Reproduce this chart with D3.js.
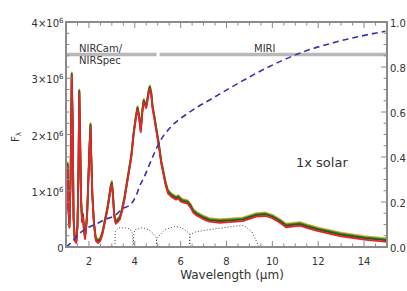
<!DOCTYPE html>
<html lang="en">
<head>
<meta charset="UTF-8">
<title>Spectrum 1x solar</title>
<script src="https://d3js.org/d3.v7.min.js"></script>
<style>
  body { margin: 0; background: #fff; }
  text { font-family: "DejaVu Sans", sans-serif; fill: #333; }
</style>
</head>
<body>
<svg id="chart"></svg>
<script>
// spectrum: wavelength (micron) and flux (units of 1e6)
var specWl = [1.00,1.03,1.07,1.10,1.15,1.20,1.25,1.29,1.33,1.38,1.45,1.50,1.54,1.58,1.62,1.66,1.70,1.74,1.78,1.83,1.88,1.92,1.96,2.02,2.07,2.10,2.15,2.22,2.30,2.40,2.50,2.60,2.70,2.80,2.88,2.95,3.00,3.05,3.10,3.17,3.25,3.35,3.45,3.55,3.65,3.75,3.85,3.95,4.05,4.12,4.19,4.26,4.33,4.39,4.45,4.50,4.56,4.62,4.66,4.72,4.78,4.85,4.94,5.05,5.15,5.25,5.35,5.45,5.60,5.80,5.90,6.00,6.10,6.30,6.45,6.55,6.70,6.96,7.25,7.70,8.10,8.70,9.30,9.70,10.00,10.30,10.60,11.20,11.50,12.00,13.00,14.00,15.00];
var specFlux = [0.40,0.90,1.45,0.80,0.35,1.20,3.05,2.20,0.50,0.12,0.08,0.35,1.20,2.75,1.80,0.80,0.45,0.55,0.30,0.15,0.35,0.55,1.00,1.70,2.15,1.60,0.90,0.40,0.12,0.08,0.12,0.25,0.45,0.65,0.85,1.05,1.12,0.90,0.55,0.42,0.45,0.50,0.65,0.85,1.10,1.35,1.60,2.00,2.30,2.45,2.30,2.05,2.40,2.58,2.52,2.48,2.62,2.78,2.82,2.70,2.45,2.30,2.07,1.80,1.50,1.30,1.10,0.96,0.90,0.85,0.87,0.82,0.80,0.78,0.70,0.62,0.57,0.51,0.46,0.44,0.45,0.47,0.55,0.56,0.52,0.45,0.36,0.39,0.35,0.29,0.20,0.14,0.10];

// cumulative fraction (right axis)
var cumWl = [1.00,1.26,1.52,1.95,2.35,2.69,3.13,3.43,3.86,4.08,4.21,4.43,4.56,4.86,5.17,5.51,6.38,7.34,8.55,9.77,11.29,12.89,14.93];
var cumFrac = [0.0,0.023,0.054,0.086,0.104,0.122,0.140,0.167,0.194,0.234,0.270,0.315,0.347,0.419,0.482,0.527,0.599,0.658,0.730,0.797,0.865,0.914,0.959];

// filter curves (right axis)
var filt1Wl = [3.13,3.15,3.30,3.60,3.80,3.90,3.93];
var filt1Tr = [0.0,0.07,0.085,0.085,0.08,0.06,0.0];
var filt2Wl = [3.93,3.95,4.00,4.35,4.60,4.80,4.95,4.96];
var filt2Tr = [0.0,0.05,0.077,0.086,0.077,0.06,0.04,0.0];
var filt3Wl = [4.94,4.95,5.30,5.73,5.95,6.17,6.40,6.41];
var filt3Tr = [0.0,0.036,0.077,0.09,0.09,0.077,0.058,0.0];
var filt4Wl = [6.38,6.40,6.67,7.25,8.40,8.77,9.10,9.33,9.42];
var filt4Tr = [0.0,0.055,0.068,0.077,0.093,0.095,0.068,0.02,0.0];

var xTicks = [2,4,6,8,10,12,14];
var yLeftTicks = [0,1,2,3,4];
var yRightTicks = [0.0,0.2,0.4,0.6,0.8,1.0];

var W = 407, H = 291;
var L = 66, R = 387, T = 22, B = 247;

var svg = d3.select("#chart").attr("width", W).attr("height", H);

var x = d3.scaleLinear().domain([1,15]).range([L,R]);
var yL = d3.scaleLinear().domain([0,4]).range([B,T]);
var yR = d3.scaleLinear().domain([0,1]).range([B,T]);

// instrument bands
var bandY = 54.5;
svg.append("line").attr("x1", L).attr("x2", x(4.95)).attr("y1", bandY).attr("y2", bandY)
  .attr("stroke", "#b8b8b8").attr("stroke-width", 3.5);
svg.append("line").attr("x1", x(5.08)).attr("x2", R).attr("y1", bandY).attr("y2", bandY)
  .attr("stroke", "#b8b8b8").attr("stroke-width", 3.5);
svg.append("text").attr("x", 79).attr("y", 51.5).attr("font-size", 10).text("NIRCam/");
svg.append("text").attr("x", 79).attr("y", 64).attr("font-size", 10).text("NIRSpec");
svg.append("text").attr("x", 254).attr("y", 51.5).attr("font-size", 10).text("MIRI");

// filter curves
[[filt1Wl,filt1Tr],[filt2Wl,filt2Tr],[filt3Wl,filt3Tr],[filt4Wl,filt4Tr]].forEach(function (f) {
  var pts = f[0].map(function (w, i) { return [w, f[1][i]]; });
  svg.append("path")
    .attr("d", d3.line().x(function (d) { return x(d[0]); }).y(function (d) { return yR(d[1]); })(pts))
    .attr("fill", "none").attr("stroke", "#444").attr("stroke-width", 1)
    .attr("stroke-dasharray", "1,2");
});

// spectrum drawn with colored outline layers
var spec = specWl.map(function (w, i) { return [w, specFlux[i]]; });
var specLine = d3.line().x(function (d) { return x(d[0]); }).y(function (d) { return yL(d[1]); });
var layers = [["#f2a426", -3], ["#2f9a34", -2], ["#1e5a22", -1], ["#e8232b", 0.5]];
layers.forEach(function (l) {
  svg.append("path").attr("d", specLine(spec))
    .attr("transform", "translate(0," + l[1] + ")")
    .attr("fill", "none").attr("stroke", l[0]).attr("stroke-width", 1.8)
    .attr("stroke-linejoin", "round");
});

// cumulative dashed
var cum = cumWl.map(function (w, i) { return [w, cumFrac[i]]; });
svg.append("path")
  .attr("d", d3.line().curve(d3.curveMonotoneX).x(function (d) { return x(d[0]); }).y(function (d) { return yR(d[1]); })(cum))
  .attr("fill", "none").attr("stroke", "#3535a8").attr("stroke-width", 1.6)
  .attr("stroke-dasharray", "6,4");

// frame
var axisColor = "#8a8a8a";
svg.append("rect").attr("x", L).attr("y", T).attr("width", R - L).attr("height", B - T)
  .attr("fill", "none").attr("stroke", axisColor).attr("stroke-width", 2);

// x ticks (bottom and top)
var xMinor = d3.range(1.5, 15, 0.5);
svg.append("g").selectAll("line").data(xMinor).enter().append("line")
  .attr("x1", function (d) { return x(d); }).attr("x2", function (d) { return x(d); })
  .attr("y1", B).attr("y2", function (d) { return B - (d % 2 === 0 ? 6 : 3.5); })
  .attr("stroke", axisColor).attr("stroke-width", 1);
svg.append("g").selectAll("line").data(xMinor).enter().append("line")
  .attr("x1", function (d) { return x(d); }).attr("x2", function (d) { return x(d); })
  .attr("y1", T).attr("y2", function (d) { return T + (d % 2 === 0 ? 6 : 3.5); })
  .attr("stroke", axisColor).attr("stroke-width", 1);
svg.append("g").selectAll("text").data(xTicks).enter().append("text")
  .attr("x", function (d) { return x(d); }).attr("y", 265)
  .attr("text-anchor", "middle").attr("font-size", 10).text(function (d) { return d; });
svg.append("text").attr("x", 232).attr("y", 278.5).attr("text-anchor", "middle")
  .attr("font-size", 12).text("Wavelength (\u03bcm)");

// left y ticks
var yLMinor = d3.range(0.2, 4, 0.2);
svg.append("g").selectAll("line").data(yLMinor).enter().append("line")
  .attr("x1", L).attr("x2", function (d) { return L + (Math.abs(d - Math.round(d)) < 1e-6 ? 6 : 3.5); })
  .attr("y1", function (d) { return yL(d); }).attr("y2", function (d) { return yL(d); })
  .attr("stroke", axisColor).attr("stroke-width", 1);
var lt = svg.append("g").selectAll("text").data(yLeftTicks).enter().append("text")
  .attr("x", 63.5).attr("y", function (d) { return yL(d) + 5; })
  .attr("text-anchor", "end").attr("font-size", 10);
lt.each(function (d) {
  var t = d3.select(this);
  if (d === 0) { t.text("0"); return; }
  t.append("tspan").text(d + "\u00d710");
  t.append("tspan").attr("font-size", 7).attr("dy", -4).text("6");
});
var fl = svg.append("text").attr("transform", "translate(19,137) rotate(-90)")
  .attr("text-anchor", "middle").attr("font-size", 10);
fl.append("tspan").text("F");
fl.append("tspan").attr("font-size", 7).attr("dy", 2).text("\u03bb");

// right y ticks
var yRMinor = d3.range(0.05, 1, 0.05);
svg.append("g").selectAll("line").data(yRMinor).enter().append("line")
  .attr("x1", R).attr("x2", function (d) { return R - (Math.abs(d * 5 - Math.round(d * 5)) < 1e-6 ? 6 : 3.5); })
  .attr("y1", function (d) { return yR(d); }).attr("y2", function (d) { return yR(d); })
  .attr("stroke", axisColor).attr("stroke-width", 1);
svg.append("g").selectAll("text").data(yRightTicks).enter().append("text")
  .attr("x", 390).attr("y", function (d) { return yR(d) + 4.5; })
  .attr("font-size", 10).text(function (d) { return d.toFixed(1); });

svg.append("text").attr("x", 296).attr("y", 167).attr("font-size", 13).text("1x solar");
</script>
</body>
</html>
